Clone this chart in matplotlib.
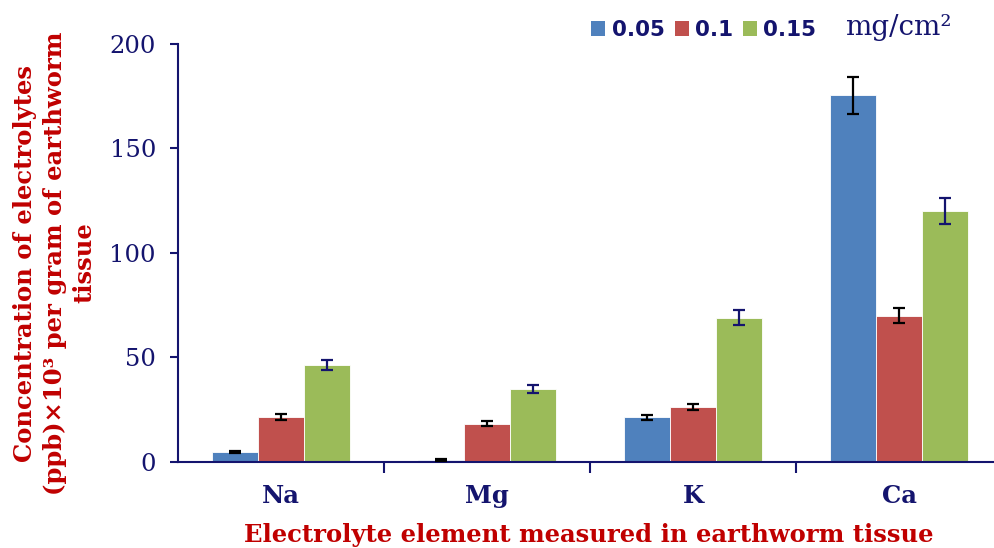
import numpy as np
import matplotlib.pyplot as plt
from matplotlib.patches import Patch

# data
elements = ["Na", "Mg", "K", "Ca"]
doses = ["0.05", "0.1", "0.15"]
conc_005 = [4.7, 1.0, 21.4, 175.4]
conc_01 = [21.5, 18.3, 26.2, 70.0]
conc_015 = [46.5, 34.9, 68.9, 119.9]
err_005 = [0.5, 0.4, 1.3, 8.8]
err_01 = [1.3, 1.1, 1.4, 3.7]
err_015 = [2.4, 2.0, 3.6, 6.2]

navy = "#14146e"
red_txt = "#c00000"
colors = ["#4f81bd", "#c0504d", "#9bbb59"]
err_colors = ["black", "black", navy]

def plot_chart():
	fig = plt.figure(figsize=(9.95, 5.48), dpi=100)
	ax = fig.add_axes([0.179, 0.157, 0.821, 0.763])

	x = np.arange(len(elements))
	w = 0.223
	series = [conc_005, conc_01, conc_015]
	errs = [err_005, err_01, err_015]
	for i in range(3):
		pos = x + (i - 1) * w
		ax.bar(pos, series[i], width=w, color=colors[i], edgecolor="white", linewidth=0.6, zorder=2)
		ax.errorbar(pos, series[i], yerr=errs[i], fmt="none", ecolor=err_colors[i],
			elinewidth=1.6, capsize=4.5, capthick=1.6, zorder=3)

	ax.set_xlim(-0.5, 3.466)
	ax.set_ylim(0, 200)
	ax.set_yticks([0, 50, 100, 150, 200])
	for s in ["top", "right"]:
		ax.spines[s].set_visible(False)
	for s in ["left", "bottom"]:
		ax.spines[s].set_color(navy)
		ax.spines[s].set_linewidth(1.5)

	ax.tick_params(axis="y", direction="out", length=6, width=1.5, color=navy,
		labelcolor=navy, labelsize=17.5, pad=10)
	for lab in ax.get_yticklabels():
		lab.set_family("DejaVu Serif")

	# boundaries as major ticks, category names on minor ticks
	ax.set_xticks([0.5, 1.5, 2.5])
	ax.set_xticklabels([])
	ax.tick_params(axis="x", which="major", direction="out", length=8, width=1.5, color=navy)
	ax.set_xticks(x, minor=True)
	ax.set_xticklabels(elements, minor=True)
	ax.tick_params(axis="x", which="minor", length=0, pad=16, labelcolor=navy, labelsize=17.5)
	for lab in ax.get_xticklabels(minor=True):
		lab.set_family("DejaVu Serif")
		lab.set_fontweight("bold")

	fig.text(0.055, 0.52, "Concentration of electrolytes\n(ppb)×10³ per gram of earthworm\ntissue",
		rotation=90, ha="center", va="center", multialignment="center",
		family="DejaVu Serif", fontweight="bold", fontsize=17.5, color=red_txt, linespacing=1.3)
	fig.text(0.592, 0.024, "Electrolyte element measured in earthworm tissue",
		ha="center", va="center", family="DejaVu Serif", fontweight="bold",
		fontsize=17.5, color=red_txt)

	handles = [Patch(facecolor=c, edgecolor="none") for c in colors]
	leg = fig.legend(handles, doses, loc="center left", bbox_to_anchor=(0.575, 0.945),
		ncol=3, frameon=False, handlelength=0.65, handleheight=0.65, handletextpad=0.3,
		columnspacing=0.45, prop={"family": "DejaVu Sans", "weight": "bold", "size": 15.5})
	for t in leg.get_texts():
		t.set_color(navy)
	fig.text(0.849, 0.949, "mg/cm²", ha="left", va="center", family="DejaVu Serif",
		fontsize=20, color=navy)

	fig.savefig("out.png", dpi=100)

if __name__ == '__main__':
	plot_chart()
